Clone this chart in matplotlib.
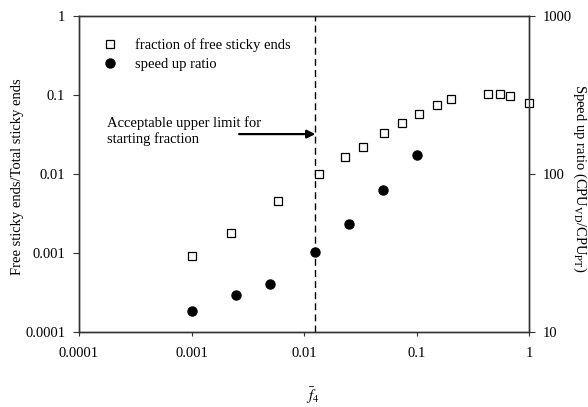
import numpy as np
import matplotlib
matplotlib.use("Agg")
import matplotlib.pyplot as plt
from matplotlib.ticker import FixedLocator, FuncFormatter, NullLocator

plt.rcParams['font.family'] = ['Liberation Serif', 'DejaVu Serif']
plt.rcParams['mathtext.fontset'] = 'stix'
plt.rcParams['font.size'] = 10.5

# fraction of free sticky ends (left axis)
frac_x = [0.001, 0.00225, 0.0059, 0.0137, 0.0229, 0.0334, 0.0518, 0.0738,
          0.105, 0.153, 0.204, 0.43, 0.548, 0.68, 1.0]
frac_y = [0.00091, 0.0018, 0.0046, 0.0100, 0.0163, 0.0222, 0.0333, 0.0446,
          0.0575, 0.074, 0.088, 0.104, 0.102, 0.097, 0.080]

# speed up ratio (right axis)
speed_x = [0.001, 0.0025, 0.005, 0.0126, 0.025, 0.05, 0.1]
speed_y = [13.6, 17.1, 20.1, 32.1, 48.0, 79.0, 132.0]

x_ticks = [0.0001, 0.001, 0.01, 0.1, 1]
y_ticks = [0.0001, 0.001, 0.01, 0.1, 1]
y2_ticks = [10, 100, 1000]
f_limit = 0.0126

fig = plt.figure(figsize=(5.88, 4.07), dpi=100)
ax = fig.add_axes([0.1344, 0.1843, 0.7653, 0.7764])
ax2 = ax.twinx()

fmt = FuncFormatter(lambda v, p: '%g' % v)

ax.set_xscale('log')
ax.set_yscale('log')
ax.set_xlim(1e-4, 1)
ax.set_ylim(1e-4, 1)
ax.xaxis.set_major_locator(FixedLocator(x_ticks))
ax.yaxis.set_major_locator(FixedLocator(y_ticks))
ax.xaxis.set_minor_locator(NullLocator())
ax.yaxis.set_minor_locator(NullLocator())
ax.xaxis.set_major_formatter(fmt)
ax.yaxis.set_major_formatter(fmt)

ax2.set_yscale('log')
ax2.set_ylim(10, 1000)
ax2.yaxis.set_major_locator(FixedLocator(y2_ticks))
ax2.yaxis.set_minor_locator(NullLocator())
ax2.yaxis.set_major_formatter(fmt)

for a in (ax, ax2):
    for s in a.spines.values():
        s.set_color('#333333')
        s.set_linewidth(1.0)
    a.tick_params(colors='#333333', labelcolor='black', width=0.8, labelsize=10.5)
ax.tick_params(axis='x', length=3, pad=8)
ax.tick_params(axis='y', length=4, pad=6)
ax2.tick_params(axis='y', length=4, pad=6)

sq, = ax.plot(frac_x, frac_y, linestyle='none', marker='s', markersize=5.2,
              markerfacecolor='white', markeredgecolor='black',
              markeredgewidth=0.9, clip_on=False, zorder=3)
ci, = ax2.plot(speed_x, speed_y, linestyle='none', marker='o', markersize=6.5,
               color='black', clip_on=False, zorder=3)

ax.axvline(f_limit, color='black', linewidth=1.0, dashes=(5, 3))

ax.annotate('', xy=(f_limit, 0.032), xytext=(0.00265, 0.032),
            arrowprops=dict(arrowstyle='-|>', color='black', lw=1.6,
                            mutation_scale=12, shrinkA=0, shrinkB=0))
ax.text(0.000177, 0.035, 'Acceptable upper limit for\nstarting fraction',
        ha='left', va='center', fontsize=10.5, linespacing=1.15)

ax2.legend([sq, ci], ['fraction of free sticky ends', 'speed up ratio'],
           loc='upper left', bbox_to_anchor=(0.037, 0.948), frameon=False,
           handlelength=1.2, handletextpad=1.1, labelspacing=0.38,
           borderaxespad=0, fontsize=10.5)

# axis titles placed in figure coordinates
fig.text(18 / 588, 1 - 177 / 407, 'Free sticky ends/Total sticky ends',
         rotation=90, ha='center', va='center', fontsize=10.5)
fig.text(580 / 588, 1 - 178 / 407,
         r'Speed up ratio (CPU$_{\mathrm{VD}}$/CPU$_{\mathrm{PT}}$)',
         rotation=-90, ha='center', va='center', fontsize=10.5)
fig.text(313 / 588, 1 - 396 / 407, r'$\bar{f}_4$',
         ha='center', va='center', fontsize=11)

fig.savefig('out.png', dpi=100)
